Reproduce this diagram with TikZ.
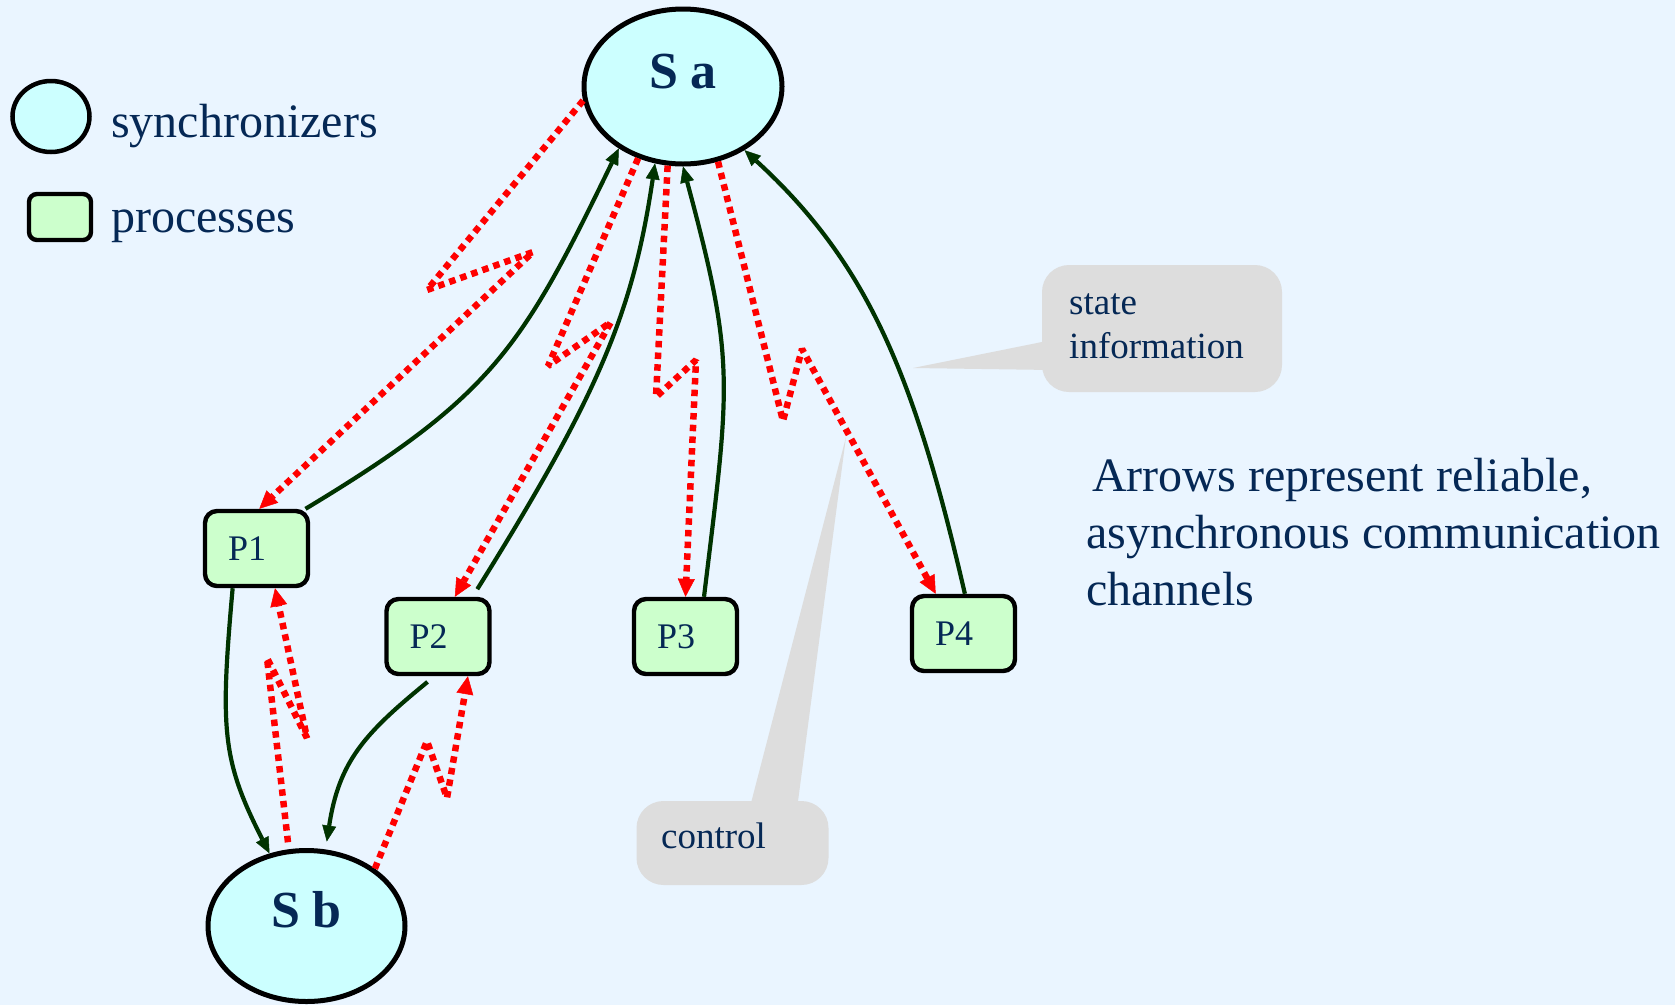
\documentclass[tikz,border=0pt]{standalone}
\usepackage{fontspec}
\setmainfont{Liberation Serif}
\usetikzlibrary{arrows.meta,shapes.geometric,calc}

\definecolor{bgblue}{RGB}{234,245,255}
\definecolor{syncfill}{RGB}{204,255,255}
\definecolor{procfill}{RGB}{204,255,204}
\definecolor{inkblue}{RGB}{5,40,85}
\definecolor{chgreen}{RGB}{0,51,0}
\definecolor{ctlred}{RGB}{255,0,0}
\definecolor{notegray}{RGB}{221,221,221}

\tikzset{
  sync/.style={ellipse, draw=black, line width=5pt, fill=syncfill, inner sep=0pt},
  procshape/.style={rectangle, draw=black, line width=4.4pt, fill=procfill},
  proc/.style={procshape, rounded corners=12pt, minimum height=75pt,
    text width=57pt, inner xsep=23pt, inner ysep=0pt, align=left,
    text height=24pt, text depth=0pt, font=\fontsize{36}{40}\selectfont, text=inkblue},
  synclabel/.style={anchor=base, inner sep=0pt, text=inkblue,
    font=\bfseries\fontsize{52}{60}\selectfont},
  chan/.style={draw=chgreen, line width=4.2pt,
    -{Triangle[length=16pt,width=14pt,line width=0.5pt]}},
  ctrl/.style={draw=ctlred, line width=6.5pt, line join=bevel,
    dash pattern=on 6.5pt off 5.2pt,
    -{Triangle[length=18pt,width=17pt,line width=0.5pt]}},
  note/.style={fill=notegray, rounded corners=27pt, inner sep=0pt},
  notetext/.style={anchor=base west, inner sep=0pt, text=inkblue,
    font=\fontsize{37}{44}\selectfont},
  bigtext/.style={anchor=base west, inner sep=0pt, text=inkblue,
    font=\fontsize{48}{57}\selectfont},
}

\begin{document}
\begin{tikzpicture}[x=1pt, y=-1pt]
  % canvas
  \fill[bgblue] (0,0) rectangle (1675,1005);
  \useasboundingbox (0,0) rectangle (1675,1005);

  % legend
  \node[sync, line width=4.5pt, minimum width=77pt, minimum height=71pt] (legSync) at (51,116.5) {};
  \node[bigtext] (legSyncText) at (111,137) {synchronizers};
  \node[procshape, rounded corners=8pt, minimum width=62pt, minimum height=46pt, inner sep=0pt] (legProc) at (60,217) {};
  \node[bigtext] (legProcText) at (111,232) {processes};

  % callouts
  \node[note, minimum width=240pt, minimum height=127pt] (stateBox) at (1162,328.5) {};
  \coordinate (stateTip) at (913,368);
  \fill[notegray] ($(stateBox.west)+(10,11.5)$) -- (stateTip) -- ($(stateBox.west)+(10,41.5)$) -- cycle;
  \node[notetext] (stateT1) at (1069,314) {state};
  \node[notetext] (stateT2) at (1069,358) {information};

  \node[note, minimum width=192pt, minimum height=84pt] (ctlBox) at (732.5,843) {};
  \coordinate (ctlTip) at (846,437);
  \fill[notegray] ($(ctlBox.north)+(17,8)$) -- (ctlTip) -- ($(ctlBox.north)+(64.5,8)$) -- cycle;
  \node[notetext] (ctlT) at (661,848.5) {control};

  % explanation
  \node[bigtext] (noteA) at (1092,491.7) {Arrows represent reliable,};
  \node[bigtext] (noteB) at (1086,548.3) {asynchronous communication};
  \node[bigtext] (noteC) at (1086,605) {channels};

  % synchronizers
  \node[sync, minimum width=198pt, minimum height=155pt] (Sa) at (683,86.5) {};
  \node[synclabel] (SaLabel) at (683,88) {S a};
  \node[sync, minimum width=197pt, minimum height=151pt] (Sb) at (306.5,926) {};
  \node[synclabel] (SbLabel) at (306.5,927) {S b};

  % processes
  \node[proc] (P1) at (256.5,548.5) {P1};
  \node[proc] (P2) at (438,636.5) {P2};
  \node[proc] (P3) at (685.5,636.5) {P3};
  \node[proc] (P4) at (963.5,633.5) {P4};

  % state information channels
  \draw[chan] (P1.39) .. controls (493,396) and (522,348) .. (Sa.224);
  \draw[chan, shorten <=9pt] (P2.49) .. controls (599,394) and (633,312) .. (Sa.250);
  \draw[chan] (P3.65) .. controls (730,382) and (736,363) .. (Sa.270);
  \draw[chan] (P4.88) .. controls (915,378) and (869,264) .. (Sa.314);
  \draw[chan] (P1.239) .. controls (220,730) and (222,760) .. (Sb.117);
  \draw[chan, shorten <=9pt, shorten >=8pt] (P2.265) .. controls (365,733) and (339,761) .. (Sb.76);

  % control channels
  \draw[ctrl] (Sa.188) -- (427,290) -- (533,252) -- (P1.86);
  \draw[ctrl] (Sa.238) -- (548,366) -- (611,322) -- (P2.67);
  \draw[ctrl] (Sa.259) -- (656,397) -- (696,360) -- (P3.north);
  \draw[ctrl] (Sa.295) -- (783,421) -- (802,349) -- (P4.125);
  \draw[ctrl, shorten <=7pt] (Sb.103) -- (267,658) -- (307,738) -- (P1.295);
  \draw[ctrl] (Sb.40) -- (427,741) -- (447,798) -- (P2.307);
\end{tikzpicture}
\end{document}
